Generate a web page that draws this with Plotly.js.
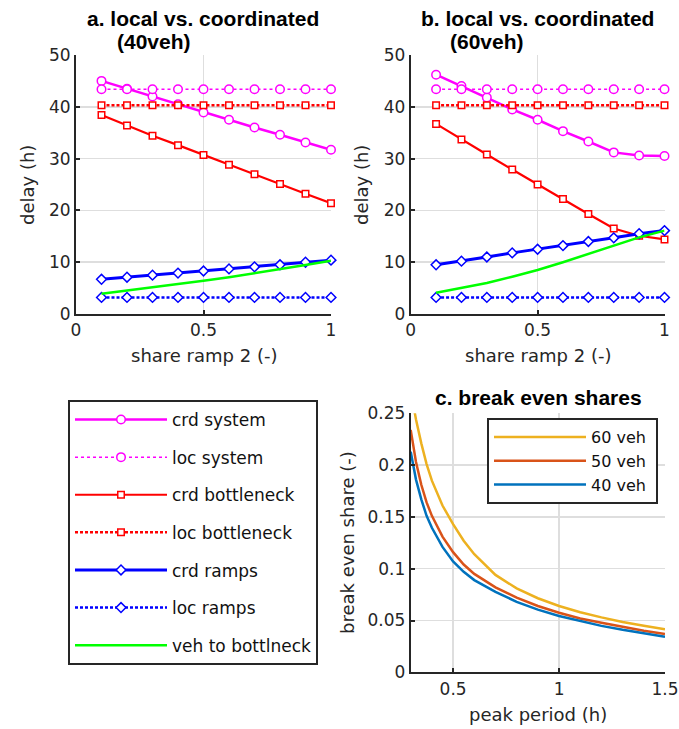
<!DOCTYPE html>
<html>
<head>
<meta charset="utf-8">
<script src="https://cdn.plot.ly/plotly-3.0.1.min.js"></script>
<style>html,body{margin:0;padding:0;background:#fff;}#chart{width:679px;height:729px;}</style>
</head>
<body>
<div id="chart"></div>
<script>
// ---- data ----
const shareRamp2 = [0.1, 0.2, 0.3, 0.4, 0.5, 0.6, 0.7, 0.8, 0.9, 1.0];

// a. 40 veh
const crdSystemA      = [45.0, 43.5, 42.0, 40.5, 38.9, 37.5, 36.0, 34.6, 33.1, 31.7];
const locSystemA      = [43.4, 43.4, 43.4, 43.4, 43.4, 43.4, 43.4, 43.4, 43.4, 43.4];
const crdBottleneckA  = [38.4, 36.4, 34.4, 32.6, 30.7, 28.8, 27.0, 25.1, 23.2, 21.4];
const locBottleneckA  = [40.3, 40.3, 40.3, 40.3, 40.3, 40.3, 40.3, 40.3, 40.3, 40.3];
const crdRampsA       = [6.7, 7.1, 7.5, 7.9, 8.3, 8.7, 9.1, 9.5, 10.0, 10.4];
const locRampsA       = [3.2, 3.2, 3.2, 3.2, 3.2, 3.2, 3.2, 3.2, 3.2, 3.2];
const vehToBottleneckA= [3.9, 4.5, 5.1, 5.7, 6.4, 7.1, 7.85, 8.6, 9.45, 10.3];

// b. 60 veh
const crdSystemB      = [46.2, 44.0, 41.8, 39.5, 37.5, 35.3, 33.3, 31.2, 30.6, 30.5];
const locSystemB      = [43.4, 43.4, 43.4, 43.4, 43.4, 43.4, 43.4, 43.4, 43.4, 43.4];
const crdBottleneckB  = [36.7, 33.7, 30.8, 27.9, 25.0, 22.2, 19.3, 16.5, 15.1, 14.4];
const locBottleneckB  = [40.3, 40.3, 40.3, 40.3, 40.3, 40.3, 40.3, 40.3, 40.3, 40.3];
const crdRampsB       = [9.5, 10.2, 11.0, 11.8, 12.5, 13.2, 14.0, 14.7, 15.5, 16.1];
const locRampsB       = [3.2, 3.2, 3.2, 3.2, 3.2, 3.2, 3.2, 3.2, 3.2, 3.2];
const vehToBottleneckB= [4.1, 5.0, 6.0, 7.2, 8.5, 10.0, 11.6, 13.2, 14.8, 16.1];

// c. break even shares
const peakPeriod = [0.3, 0.325, 0.35, 0.375, 0.4, 0.45, 0.5, 0.55, 0.6, 0.7, 0.8, 0.9, 1.0, 1.1, 1.2, 1.3, 1.4, 1.5];
const share60 = [0.272, 0.244, 0.221, 0.201, 0.185, 0.161, 0.143, 0.127, 0.114, 0.094, 0.081, 0.0715, 0.064, 0.058, 0.053, 0.0485, 0.045, 0.0415];
const share50 = [0.234, 0.203, 0.181, 0.164, 0.151, 0.131, 0.116, 0.104, 0.095, 0.082, 0.072, 0.064, 0.0575, 0.052, 0.0478, 0.0438, 0.0402, 0.037];
const share40 = [0.213, 0.186, 0.167, 0.151, 0.1395, 0.121, 0.107, 0.097, 0.089, 0.0777, 0.068, 0.0605, 0.0543, 0.0492, 0.0448, 0.041, 0.0375, 0.0344];

const seriesNames = ['crd system', 'loc system', 'crd bottleneck', 'loc bottleneck', 'crd ramps', 'loc ramps', 'veh to bottlneck'];
const periodNames = ['60 veh', '50 veh', '40 veh'];
const delayTicks = [0, 10, 20, 30, 40, 50];
const shareTicks = [0, 0.5, 1];
const shareTickText = ['0', '0.5', '1'];
const periodTicks = [0.5, 1, 1.5];
const periodTickText = ['0.5', '1', '1.5'];
const beTicks = [0, 0.05, 0.1, 0.15, 0.2, 0.25];
const beTickText = ['0', '0.05', '0.1', '0.15', '0.2', '0.25'];

// ---- styles ----
const MAG = '#FF00FF', RED = '#FF0000', BLU = '#0000FF', GRN = '#00FF00';
const styles = [
  {color: MAG, width: 2.5, dash: 'solid', symbol: 'circle', size: 8.5},
  {color: MAG, width: 1.5, dash: '3px,3px', symbol: 'circle', size: 8.5},
  {color: RED, width: 2.2, dash: 'solid', symbol: 'square', size: 6.5},
  {color: RED, width: 2.5, dash: '3px,2px', symbol: 'square', size: 6.5},
  {color: BLU, width: 3, dash: 'solid', symbol: 'diamond', size: 7.5},
  {color: BLU, width: 2.5, dash: '3px,2px', symbol: 'diamond', size: 7.5},
  {color: GRN, width: 2.5, dash: 'solid', symbol: null, size: 0}
];

function makeTraces(seriesList, xa, ya, showLegend) {
  return seriesList.map((ys, i) => {
    const s = styles[i];
    const t = {
      type: 'scatter', x: shareRamp2, y: ys, xaxis: xa, yaxis: ya,
      name: seriesNames[i], showlegend: showLegend, legend: 'legend',
      legendgroup: 'g' + i, cliponaxis: false,
      mode: s.symbol ? 'lines+markers' : 'lines',
      line: {color: s.color, width: s.width, dash: s.dash}
    };
    if (s.symbol) {
      t.marker = {symbol: s.symbol, size: s.size, color: '#FFFFFF', line: {color: s.color, width: 1.5}};
    }
    return t;
  });
}

const tracesA = makeTraces([crdSystemA, locSystemA, crdBottleneckA, locBottleneckA, crdRampsA, locRampsA, vehToBottleneckA], 'x', 'y', true);
const tracesB = makeTraces([crdSystemB, locSystemB, crdBottleneckB, locBottleneckB, crdRampsB, locRampsB, vehToBottleneckB], 'x2', 'y2', false);
const cColors = ['#EDB120', '#D95319', '#0072BD'];
const tracesC = [share60, share50, share40].map((ys, i) => ({
  type: 'scatter', mode: 'lines', x: peakPeriod, y: ys, xaxis: 'x3', yaxis: 'y3',
  name: periodNames[i] + '\u00A0', legend: 'legend2', line: {color: cColors[i], width: 2.5}
}));

const FONT = 'DejaVu Sans';
const TXT = '#262626';
const W = 679, H = 729;
const px = v => v / W;
const py = v => 1 - v / H;

function axisBase(extra) {
  return Object.assign({
    showline: true, linecolor: TXT, linewidth: 2, mirror: false,
    ticks: 'inside', ticklen: 4, tickwidth: 2, tickcolor: TXT,
    showgrid: true, gridcolor: '#DEDEDE', gridwidth: 1.5, zeroline: false,
    tickfont: {family: FONT, size: 17, color: TXT}, fixedrange: true
  }, extra);
}

const layout = {
  width: W, height: H,
  margin: {l: 0, r: 0, t: 0, b: 0},
  paper_bgcolor: '#FFFFFF', plot_bgcolor: '#FFFFFF',
  font: {family: FONT, size: 17, color: TXT},
  xaxis: axisBase({domain: [px(76), px(331)], anchor: 'y', range: [0, 1], tickvals: shareTicks, ticktext: shareTickText}),
  yaxis: axisBase({domain: [py(314), py(55)], anchor: 'x', range: [0, 50], tickvals: delayTicks}),
  xaxis2: axisBase({domain: [px(410.7), px(664.5)], anchor: 'y2', range: [0, 1], tickvals: shareTicks, ticktext: shareTickText}),
  yaxis2: axisBase({domain: [py(314), py(55)], anchor: 'x2', range: [0, 50], tickvals: delayTicks}),
  xaxis3: axisBase({domain: [px(410.7), px(665)], anchor: 'y3', range: [0.3, 1.5], tickvals: periodTicks, ticktext: periodTickText}),
  yaxis3: axisBase({domain: [py(672.3), py(413.3)], anchor: 'x3', range: [0, 0.25], tickvals: beTicks, ticktext: beTickText}),
  legend: {
    x: px(68), y: py(400), xanchor: 'left', yanchor: 'top',
    bgcolor: '#FFFFFF', bordercolor: TXT, borderwidth: 2,
    font: {family: FONT, size: 17, color: '#111111'},
    traceorder: 'grouped', tracegroupgap: 12.5, itemwidth: 92
  },
  legend2: {
    x: px(487), y: py(418), xanchor: 'left', yanchor: 'top',
    bgcolor: '#FFFFFF', bordercolor: TXT, borderwidth: 2,
    font: {family: FONT, size: 16, color: '#111111'},
    itemwidth: 92
  },
  annotations: [
    {text: '<b>a. local vs. coordinated</b>', x: px(203), y: py(18), xref: 'paper', yref: 'paper', showarrow: false, xanchor: 'center', yanchor: 'middle', font: {family: 'Liberation Sans', size: 21, color: '#000000'}},
    {text: '<b>(40veh)</b>', x: px(115), y: py(41), xref: 'paper', yref: 'paper', showarrow: false, xanchor: 'left', yanchor: 'middle', font: {family: 'Liberation Sans', size: 21, color: '#000000'}},
    {text: '<b>b. local vs. coordinated</b>', x: px(537), y: py(18), xref: 'paper', yref: 'paper', showarrow: false, xanchor: 'center', yanchor: 'middle', font: {family: 'Liberation Sans', size: 21, color: '#000000'}},
    {text: '<b>(60veh)</b>', x: px(448), y: py(41), xref: 'paper', yref: 'paper', showarrow: false, xanchor: 'left', yanchor: 'middle', font: {family: 'Liberation Sans', size: 21, color: '#000000'}},
    {text: '<b>c. break even shares</b>', x: px(538), y: py(397), xref: 'paper', yref: 'paper', showarrow: false, xanchor: 'center', yanchor: 'middle', font: {family: 'Liberation Sans', size: 21, color: '#000000'}},
    {text: 'delay (h)', x: px(27), y: py(185), xref: 'paper', yref: 'paper', showarrow: false, textangle: -90, xanchor: 'center', yanchor: 'middle', font: {family: FONT, size: 18, color: TXT}},
    {text: 'delay (h)', x: px(361), y: py(185), xref: 'paper', yref: 'paper', showarrow: false, textangle: -90, xanchor: 'center', yanchor: 'middle', font: {family: FONT, size: 18, color: TXT}},
    {text: 'share ramp 2 (-)', x: px(203.5), y: py(355), xref: 'paper', yref: 'paper', showarrow: false, xanchor: 'center', yanchor: 'middle', font: {family: FONT, size: 18, color: TXT}},
    {text: 'share ramp 2 (-)', x: px(537.5), y: py(355), xref: 'paper', yref: 'paper', showarrow: false, xanchor: 'center', yanchor: 'middle', font: {family: FONT, size: 18, color: TXT}},
    {text: 'break even share (-)', x: px(347), y: py(543), xref: 'paper', yref: 'paper', showarrow: false, textangle: -90, xanchor: 'center', yanchor: 'middle', font: {family: FONT, size: 18, color: TXT}},
    {text: 'peak period (h)', x: px(538), y: py(714), xref: 'paper', yref: 'paper', showarrow: false, xanchor: 'center', yanchor: 'middle', font: {family: FONT, size: 18, color: TXT}}
  ]
};

Plotly.newPlot('chart', tracesA.concat(tracesB, tracesC), layout, {staticPlot: true, displayModeBar: false});
</script>
</body>
</html>
